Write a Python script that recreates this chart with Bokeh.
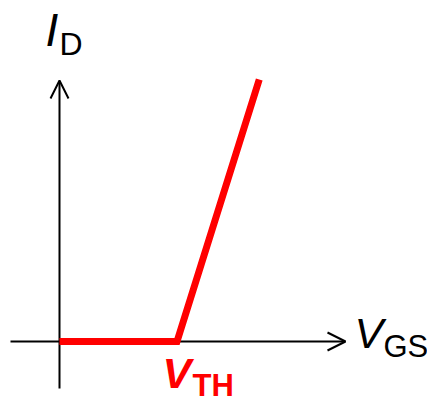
from bokeh.plotting import figure
from bokeh.models import Range1d, Arrow, OpenHead, Label
from bokeh.embed import file_html
from bokeh.resources import INLINE

# Data: transfer characteristic of a MOSFET (arbitrary units, V_TH = 1)
vgs = [0.0, 1.0, 1.7]
id_ = [0.0, 0.0, 1.0]

# mapping helpers (reference pixel -> data units)
X0, Y0, SX, SY = 59.0, 341.0, 117.5, 262.0
def dx(px):
    return (px - X0) / SX
def dy(py):
    return (Y0 - py) / SY

p = figure(width=427, height=404, output_backend="svg", toolbar_location=None,
           x_range=Range1d(dx(0), dx(427)), y_range=Range1d(dy(404), dy(0)),
           x_axis_type=None, y_axis_type=None, min_border=0)
p.grid.visible = False
p.outline_line_color = None
p.background_fill_color = "white"

# axes as arrows
p.add_layout(Arrow(end=OpenHead(size=18, line_width=2, line_color="black"),
                   x_start=dx(10), y_start=0, x_end=dx(345), y_end=0,
                   line_width=2, line_color="black", level="underlay"))
p.add_layout(Arrow(end=OpenHead(size=18, line_width=2, line_color="black"),
                   x_start=0, y_start=dy(388), x_end=0, y_end=dy(80),
                   line_width=2, line_color="black", level="underlay"))

p.line(vgs, id_, line_width=7, line_color="#ff0000", line_join="miter", line_cap="butt")

F = "Liberation Sans"
SHIFT = 16
def lab(x, y, t, size, style="normal", color="black"):
    p.add_layout(Label(x=dx(x), y=dy(y - SHIFT), text=t, text_font=F, text_font_size=f"{size}px",
                       text_font_style=style, text_color=color,
                       text_baseline="alphabetic", text_align="left"))

lab(45, 45, "I", 46, "italic")
lab(59, 59, "D", 32)
lab(354, 348, "V", 43, "italic")
lab(383, 362, "GS", 31)
lab(162, 388, "V", 43, "bold italic", "#ff0000")
lab(192, 401, "TH", 31, "bold", "#ff0000")

open("out.html", "w").write(file_html(p, INLINE))
